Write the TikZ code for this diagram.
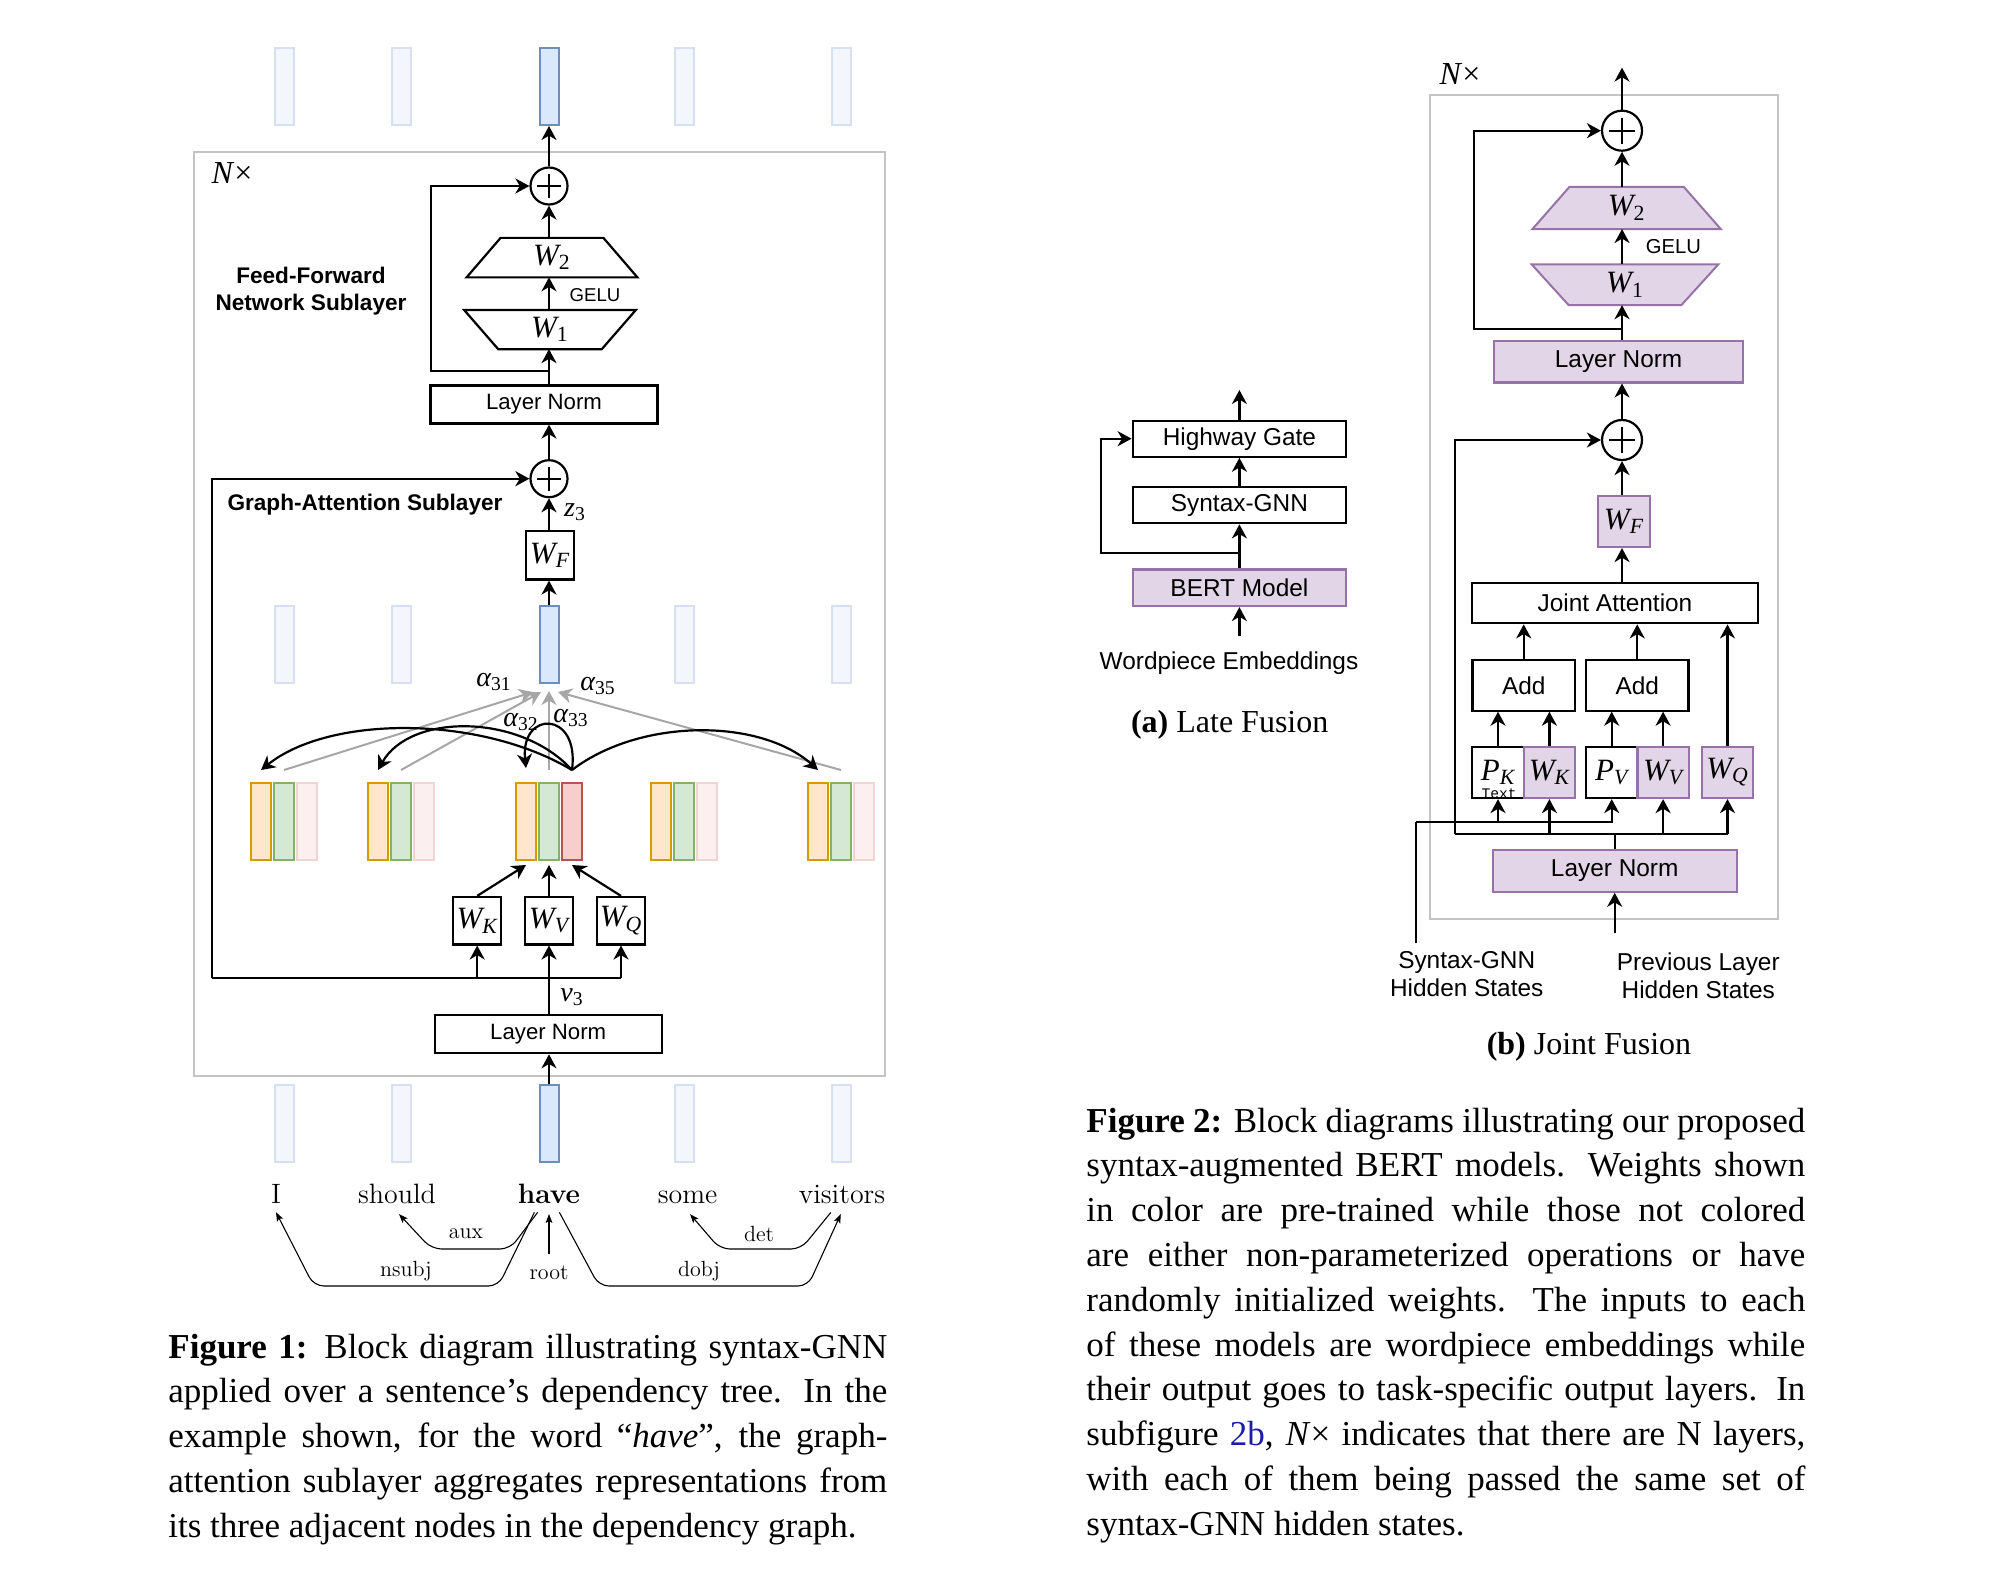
\documentclass[tikz,border=0pt]{standalone}
\usepackage{fontspec}
\newfontfamily\tnr{Liberation Serif}
\newfontfamily\hv{Liberation Sans}
\newfontfamily\cour{Liberation Mono}
\usetikzlibrary{arrows.meta,calc}
\pgfdeclarelayer{background}
\pgfsetlayers{background,main}
\definecolor{bfill}{HTML}{DAE8FC}
\definecolor{bdraw}{HTML}{6C8EBF}
\definecolor{bfillf}{HTML}{F3F7FD}
\definecolor{bdrawf}{HTML}{D5E1F3}
\definecolor{ofill}{HTML}{FFE6CC}
\definecolor{odraw}{HTML}{D79B00}
\definecolor{gfill}{HTML}{D5E8D4}
\definecolor{gdraw}{HTML}{82B366}
\definecolor{rfill}{HTML}{F8CECC}
\definecolor{rdraw}{HTML}{B85450}
\definecolor{rfillf}{HTML}{FCEFEF}
\definecolor{rdrawf}{HTML}{F0D4D3}
\definecolor{pfill}{HTML}{E1D5E7}
\definecolor{pdraw}{HTML}{9673A6}
\definecolor{agray}{HTML}{A6A6A6}
\definecolor{fgray}{HTML}{C4C4C4}
\definecolor{linkblue}{HTML}{1C1CA8}
\newlength\capw
\setlength\capw{359.5pt}
\newcommand\jline[1]{\makebox[\capw][s]{#1}}
\newcommand\usub[1]{\textsubscript{\upshape #1}}
\begin{document}
\begin{tikzpicture}[x=0.5pt,y=-0.5pt,
  ln/.style={line width=1.1pt},
  arr/.style={line width=1.1pt,-{Stealth[length=7pt,width=7.5pt,inset=2.2pt]}},
  garr/.style={line width=1pt,draw=agray,-{Stealth[length=7pt,width=7.5pt,inset=2.2pt]}},
  dep/.style={line width=0.55pt,rounded corners=5pt,-{Stealth[length=4.5pt,width=3.4pt,inset=1pt]}},
  frm/.style={draw=fgray,line width=0.9pt},
  sbox/.style={draw,line width=1.1pt,inner sep=0pt,font=\hv\fontsize{11.1}{13}\selectfont},
  sboxb/.style={draw,line width=1.1pt,inner sep=0pt,font=\hv\fontsize{12.2}{14}\selectfont},
  pboxb/.style={sboxb,fill=pfill,draw=pdraw},
  wbox/.style={draw,line width=1.1pt,inner sep=0pt,font=\tnr\itshape\fontsize{15.5}{17}\selectfont},
  pwbox/.style={wbox,fill=pfill,draw=pdraw},
  wtxt/.style={inner sep=0pt,font=\tnr\itshape\fontsize{15.5}{17}\selectfont},
  pcirc/.style={circle,draw,line width=1.1pt,inner sep=0pt},
  bbar/.style={draw=bdraw,fill=bfill,line width=1pt,inner sep=0pt,minimum width=9.5pt,minimum height=38.5pt},
  fbar/.style={bbar,draw=bdrawf,fill=bfillf},
  obar/.style={draw=odraw,fill=ofill,line width=1pt,inner sep=0pt,minimum width=10pt,minimum height=38.5pt},
  gbar/.style={obar,draw=gdraw,fill=gfill},
  rbar/.style={obar,draw=rdraw,fill=rfill},
  rfbar/.style={obar,draw=rdrawf,fill=rfillf},
  word/.style={inner sep=0pt,anchor=base,font=\fontsize{14}{16}\selectfont},
  dlab/.style={inner sep=0pt,font=\fontsize{11}{13}\selectfont},
  lab/.style={inner sep=0pt,font=\tnr\itshape\fontsize{14}{16}\selectfont},
  bsans/.style={inner sep=0pt,align=center,font=\hv\bfseries\fontsize{11.3}{13.6}\selectfont},
  ssans/.style={inner sep=0pt,font=\hv\fontsize{9.3}{11}\selectfont},
  lsans/.style={inner sep=0pt,align=center,font=\hv\fontsize{12.2}{14}\selectfont},
  capt/.style={anchor=base west,inner sep=0pt,font=\tnr\fontsize{17.5}{22.4}\selectfont},
  subc/.style={inner sep=0pt,font=\tnr\fontsize{16}{18}\selectfont}
]
\useasboundingbox (0,0) rectangle (2011,1584);

% ================= FIGURE 1 =================
\draw[frm] (194,152) rectangle (885,1076);
\node[inner sep=0pt,font=\tnr\fontsize{16}{18}\selectfont] (nx1) at (232,173) {\textit{N}×};

% bars
\node[bbar] (t3) at (549,86.5) {};
\node[bbar] (m3) at (549,644.5) {};
\node[bbar] (b3) at (549,1123) {};
\foreach \n/\x in {1/284,2/401,4/684,5/841}{
  \node[fbar] (t\n) at (\x,86.5) {};
  \node[fbar] (m\n) at (\x,644.5) {};
  \node[fbar] (b\n) at (\x,1123) {};
  \node[rfbar] (cr\n) at (\x+23,821.5) {};
}
\foreach \n/\x in {1/284,2/401,3/549,4/684,5/841}{
  \node[obar] (co\n) at (\x-23,821.5) {};
  \node[gbar] (cg\n) at (\x,821.5) {};
}
\node[rbar] (cr3) at (572,821.5) {};

% feed-forward sublayer
\node[pcirc,minimum size=18.5pt] (p1) at (549,186) {};
\draw[ln] ([yshift=6pt]p1.center) -- ([yshift=-6pt]p1.center);
\draw[ln] ([xshift=-6pt]p1.center) -- ([xshift=6pt]p1.center);
\node[wtxt,minimum width=85pt,minimum height=19.35pt] (w2) at (552,257.6) {W\usub{2}};
\draw[ln] (w2.south west) -- (w2.south east) -- ([xshift=-17pt]w2.north east) -- ([xshift=17pt]w2.north west) -- cycle;
\node[wtxt,minimum width=85.4pt,minimum height=19.15pt] (w1) at (550,329.6) {W\usub{1}};
\draw[ln] (w1.north west) -- (w1.north east) -- ([xshift=-17pt]w1.south east) -- ([xshift=17pt]w1.south west) -- cycle;
\node[ssans] (gelu1) at (595,295) {GELU};
\node[sbox,minimum width=113.5pt,minimum height=19pt] (ln1) at (544,404.5) {Layer Norm};
\node[bsans] (ffn) at (311,291) {Feed-Forward\\Network Sublayer};

\draw[arr] (p1.north) -- (t3.south);
\draw[arr] (w2.north -| p1) -- (p1.south);
\draw[arr] (w1.north -| p1) -- (w2.south -| p1);
\draw[arr] (ln1.north -| p1) -- (w1.south -| p1);
\coordinate (br1) at (549,371);
\draw[arr] (br1) -- (430.6,371) |- (p1.west);

% graph-attention sublayer
\node[pcirc,minimum size=18.5pt] (p2) at (549,478.7) {};
\draw[ln] ([yshift=6pt]p2.center) -- ([yshift=-6pt]p2.center);
\draw[ln] ([xshift=-6pt]p2.center) -- ([xshift=6pt]p2.center);
\node[bsans] (gas) at (365,505) {Graph-Attention Sublayer};
\draw[arr] (p2.north) -- (ln1.south -| p2);
\node[wbox,minimum width=23.8pt,minimum height=24.3pt] (wf) at (550,555.2) {W\textsubscript{F}};
\node[lab] (z3) at (575,512) {z\usub{3}};
\draw[arr] (wf.north -| p2) -- (p2.south);
\draw[arr] (m3.north) -- (wf.south -| m3);

% attention arrows
\node[lab] (a31) at (494,682) {α\usub{31}};
\node[lab] (a35) at (598,686) {α\usub{35}};
\node[lab] (a32) at (521,722) {α\usub{32}};
\node[lab] (a33) at (571,718) {α\usub{33}};
\draw[garr] ([yshift=6pt]cg1.north) -- ([xshift=-8pt,yshift=-4pt]m3.south);
\draw[garr] ([yshift=6pt]cg2.north) -- ([xshift=-4pt,yshift=-4pt]m3.south);
\draw[garr] ([yshift=6pt]cg3.north) -- ([yshift=-3.5pt]m3.south);
\draw[garr] ([yshift=6pt]cg5.north) -- ([xshift=4.5pt,yshift=-4pt]m3.south);
\coordinate (ao) at ([yshift=6pt]cr3.north);
\draw[arr] (ao) .. controls (480,715) and (330,715) .. ([yshift=6pt]co1.north);
\draw[arr] (ao) .. controls (520,713) and (410,713) .. ([yshift=6pt]co2.north);
\draw[arr] (ao) .. controls (580,710) and (520,710) .. ([yshift=7pt]co3.north);
\draw[arr] (ao) .. controls (640,718) and (760,718) .. ([yshift=6pt]co5.north);

% WK WV WQ
\node[wbox,minimum width=24pt,minimum height=23.7pt] (wk) at (477.2,920.7) {W\textsubscript{K}};
\node[wbox,minimum width=24pt,minimum height=23.7pt] (wv) at (549,920.7) {W\textsubscript{V}};
\node[wbox,minimum width=24pt,minimum height=23.7pt] (wq) at (621,920.7) {W\textsubscript{Q}};
\draw[arr] (wk.north) -- ([yshift=-2pt]co3.south);
\draw[arr] (wv.north) -- ([yshift=-2pt]cg3.south);
\draw[arr] (wq.north) -- ([yshift=-2pt]cr3.south);
\coordinate (hl) at (212.3,978);
\draw[ln] (hl) -- (wq.south |- hl);
\draw[arr] (hl) |- (p2.west);
\draw[arr] (wk.south |- hl) -- (wk.south);
\draw[arr] (wq.south |- hl) -- (wq.south);
\node[sbox,minimum width=113.5pt,minimum height=19.2pt] (ln2) at (548.2,1034) {Layer Norm};
\draw[arr] (ln2.north -| wv) -- (wv.south);
\node[lab] (v3) at (572,997) {v\usub{3}};
\draw[arr] (b3.north) -- (ln2.south -| b3);

% dependency tree
\node[word] (dI) at (276,1203) {I};
\node[word] (dShould) at (397,1203) {should};
\node[word,font=\fontsize{14}{16}\selectfont\bfseries] (dHave) at (549,1203) {have};
\node[word] (dSome) at (687.6,1203) {some};
\node[word] (dVis) at (842,1203) {visitors};
\draw[dep] ([xshift=-5.7pt,yshift=-4.4pt]dHave.south) -- (510,1249) -- (431.5,1249) -- ([xshift=1pt,yshift=-5.2pt]dShould.south);
\draw[dep] ([xshift=-7.3pt,yshift=-4.4pt]dHave.south) -- (498.4,1286) -- (313.8,1286) -- ([yshift=-4.4pt]dI.south);
\coordinate (rootS) at (549,1254);
\draw[dep] (rootS) -- ([yshift=-5.2pt]dHave.south);
\draw[dep] ([xshift=5.2pt,yshift=-4.4pt]dHave.south) -- (599,1286) -- (808,1286) -- ([xshift=-0.6pt,yshift=-5.2pt]dVis.south);
\draw[dep] ([xshift=-5.6pt,yshift=-4.4pt]dVis.south) -- (801,1249) -- (720,1249) -- ([xshift=1.2pt,yshift=-5.2pt]dSome.south);
\node[dlab] (laux) at (466,1233.7) {aux};
\node[dlab] (lnsubj) at (406,1271) {nsubj};
\node[dlab] (lroot) at (549,1272.6) {root};
\node[dlab] (ldobj) at (699,1271) {dobj};
\node[dlab] (ldet) at (759,1233.7) {det};

% caption 1
\node[capt] (cap1) at (168,1358) {\parbox[t]{\capw}{%
\jline{\textbf{Figure 1:} Block diagram illustrating syntax-GNN}\\
\jline{applied over a sentence’s dependency tree. In the}\\
\jline{example shown, for the word “\textit{have}”, the graph-}\\
\jline{attention sublayer aggregates representations from}\\
its three adjacent nodes in the dependency graph.}};

% ================= FIGURE 2a =================
\node[sboxb,minimum width=106.7pt,minimum height=18pt] (hg) at (1239.4,438.7) {Highway Gate};
\node[sboxb,minimum width=106.7pt,minimum height=18pt] (sg) at (1239.4,505.3) {Syntax-GNN};
\node[pboxb,minimum width=106.7pt,minimum height=18.3pt] (bert) at (1239.4,587.7) {BERT Model};
\coordinate (aout) at (1239.4,390);
\draw[arr] (hg.north) -- (aout);
\draw[arr] (sg.north) -- (hg.south);
\draw[arr] (bert.north) -- (sg.south);
\coordinate (abr) at (1239.4,552.7);
\draw[arr] (abr) -- (1100.7,552.7) |- (hg.west);
\node[lsans] (wp) at (1229,663.3) {Wordpiece Embeddings};
\draw[arr] ([yshift=8pt]wp.north -| bert.south) -- (bert.south);
\node[subc] (capa) at (1229.7,725) {\textbf{(a)} Late Fusion};

% ================= FIGURE 2b =================
\draw[frm] (1430,95) rectangle (1778,919);
\node[inner sep=0pt,font=\tnr\fontsize{16}{18}\selectfont] (nx2) at (1460,74.5) {\textit{N}×};
\node[pcirc,minimum size=20pt] (p3) at (1622,130.7) {};
\draw[ln] ([yshift=6.5pt]p3.center) -- ([yshift=-6.5pt]p3.center);
\draw[ln] ([xshift=-6.5pt]p3.center) -- ([xshift=6.5pt]p3.center);
\coordinate (bout) at (1622,67.6);
\draw[arr] (p3.north) -- (bout);
\node[wtxt,minimum width=93.7pt,minimum height=20.7pt] (w2b) at (1626.6,207.9) {W\usub{2}};
\node[wtxt,minimum width=92.9pt,minimum height=20pt] (w1b) at (1625,284.8) {W\usub{1}};
\begin{pgfonlayer}{background}
\filldraw[fill=pfill,draw=pdraw,line width=1pt] (w2b.south west) -- (w2b.south east) -- ([xshift=-18.5pt]w2b.north east) -- ([xshift=18.5pt]w2b.north west) -- cycle;
\filldraw[fill=pfill,draw=pdraw,line width=1pt] (w1b.north west) -- (w1b.north east) -- ([xshift=-18.5pt]w1b.south east) -- ([xshift=18.5pt]w1b.south west) -- cycle;
\end{pgfonlayer}
\node[inner sep=0pt,font=\hv\fontsize{10.1}{12}\selectfont] (gelu2) at (1673.4,246.9) {GELU};
\node[pboxb,minimum width=124.4pt,minimum height=20.7pt] (lnb1) at (1618.6,361.7) {Layer Norm};
\draw[arr] (w2b.north -| p3) -- (p3.south);
\draw[arr] (w1b.north -| p3) -- (w2b.south -| p3);
\draw[arr] (lnb1.north -| p3) -- (w1b.south -| p3);
\coordinate (br2) at (1622,329);
\draw[arr] (br2) -- (1473.9,329) |- (p3.west);
\node[pcirc,minimum size=20pt] (p4) at (1622,440) {};
\draw[ln] ([yshift=6.5pt]p4.center) -- ([yshift=-6.5pt]p4.center);
\draw[ln] ([xshift=-6.5pt]p4.center) -- ([xshift=6.5pt]p4.center);
\draw[arr] (p4.north) -- (lnb1.south -| p4);
\node[pwbox,minimum width=26.3pt,minimum height=25.5pt] (wfb) at (1624,521.5) {W\textsubscript{F}};
\draw[arr] (wfb.north -| p4) -- (p4.south);
\node[sboxb,minimum width=142.7pt,minimum height=20.3pt] (ja) at (1615,603) {Joint Attention};
\draw[arr] (ja.north -| p4) -- (wfb.south -| p4);
\node[sboxb,minimum width=51.3pt,minimum height=25.3pt] (add1) at (1523.7,685.3) {Add};
\node[sboxb,minimum width=51.3pt,minimum height=25.3pt] (add2) at (1637.2,685.3) {Add};
\draw[arr] (add1.north) -- (ja.south -| add1);
\draw[arr] (add2.north) -- (ja.south -| add2);
\node[wbox,minimum width=25.7pt,minimum height=25.7pt] (pk) at (1498,772.3) {P\textsubscript{K}};
\node[pwbox,minimum width=25.7pt,minimum height=25.7pt] (wkb) at (1549.4,772.3) {W\textsubscript{K}};
\node[wbox,minimum width=25.7pt,minimum height=25.7pt] (pv) at (1611.7,772.3) {P\textsubscript{V}};
\node[pwbox,minimum width=25.7pt,minimum height=25.7pt] (wvb) at (1663.1,772.3) {W\textsubscript{V}};
\node[pwbox,minimum width=25.7pt,minimum height=25.7pt] (wqb) at (1727.5,772.3) {W\textsubscript{Q}};
\node[inner sep=0pt,font=\cour\fontsize{7.3}{8}\selectfont] (ptext) at (1499,793.3) {Text};
\draw[arr] (wqb.north) -- (ja.south -| wqb);
\draw[arr] (pk.north) -- (add1.south -| pk);
\draw[arr] (wkb.north) -- (add1.south -| wkb);
\draw[arr] (pv.north) -- (add2.south -| pv);
\draw[arr] (wvb.north) -- (add2.south -| wvb);
\node[pboxb,minimum width=122pt,minimum height=20.9pt] (lnb2) at (1614.7,870.8) {Layer Norm};
\coordinate (mll) at (1455,834.3);
\draw[ln] (lnb2.north) -- (lnb2.north |- mll);
\draw[ln] (mll) -- (wqb.south |- mll);
\draw[arr] (mll) |- (p4.west);
\draw[arr] (wkb.south |- mll) -- (wkb.south);
\draw[arr] (wvb.south |- mll) -- (wvb.south);
\draw[arr] (wqb.south |- mll) -- (wqb.south);
\coordinate (sgs) at (1416,943.3);
\coordinate (syl) at (1416,822.3);
\draw[ln] (sgs) -- (syl);
\draw[arr] (syl) -| (pv.south);
\draw[arr] (syl -| pk.south) -- (pk.south);
\node[lsans] (lsg) at (1466.7,974) {Syntax-GNN\\Hidden States};
\node[lsans] (lprev) at (1698.3,976) {Previous Layer\\Hidden States};
\coordinate (prv) at (1614.7,933.3);
\draw[arr] (prv) -- (lnb2.south);
\node[subc] (capb) at (1589,1046.7) {\textbf{(b)} Joint Fusion};

% caption 2
\node[capt] (cap2) at (1086,1132) {\parbox[t]{\capw}{%
\jline{\textbf{Figure 2:} Block diagrams illustrating our proposed}\\
\jline{syntax-augmented BERT models. Weights shown}\\
\jline{in color are pre-trained while those not colored}\\
\jline{are either non-parameterized operations or have}\\
\jline{randomly initialized weights. The inputs to each}\\
\jline{of these models are wordpiece embeddings while}\\
\jline{their output goes to task-specific output layers. In}\\
\jline{subfigure \textcolor{linkblue}{2b}, \textit{N}× indicates that there are N layers,}\\
\jline{with each of them being passed the same set of}\\
syntax-GNN hidden states.}};
\end{tikzpicture}
\end{document}
